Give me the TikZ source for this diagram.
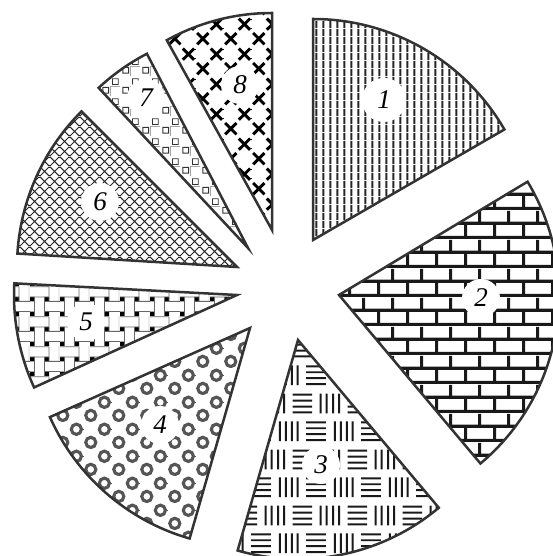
\documentclass[tikz,border=0pt]{standalone}
\usepackage{fontspec}
\setmainfont{Liberation Serif}
\usetikzlibrary{patterns.meta}

\definecolor{rim}{HTML}{333333}
\definecolor{ringgray}{HTML}{555555}

\tikzdeclarepattern{
  name=vstripes, type=colored,
  bounding box={(0pt,0pt) and (3.65pt,4pt)},
  tile size={(3.65pt,4pt)},
  code={\fill[black!85] (1.25pt,0pt) rectangle (2.35pt,4pt);}
}
\tikzdeclarepattern{
  name=bricks, type=colored,
  bounding box={(0pt,0pt) and (14.5pt,14.3pt)},
  tile size={(14.5pt,14.3pt)},
  code={
    \fill[black!90] (0pt,0pt) rectangle (14.5pt,1.6pt);
    \fill[black!90] (0pt,7.15pt) rectangle (14.5pt,8.75pt);
    \fill[black!90] (0pt,0pt) rectangle (1.6pt,7.15pt);
    \fill[black!90] (7.25pt,7.15pt) rectangle (8.85pt,14.3pt);
  }
}
\tikzdeclarepattern{
  name=parquet, type=colored,
  bounding box={(0pt,0pt) and (27.5pt,28pt)},
  tile size={(27.5pt,28pt)},
  code={
    \foreach \k in {0.5,3.5,6.5,9.5}{
      % row A
      \fill[black!90] (2pt+\k pt-0.5pt,2pt) rectangle (2pt+\k pt+0.5pt,12pt);
      \fill[black!90] (15.75pt,2pt+\k pt-0.5pt) rectangle (25.75pt,2pt+\k pt+0.5pt);
      % row B
      \fill[black!90] (8.875pt,16pt+\k pt-0.5pt) rectangle (18.875pt,16pt+\k pt+0.5pt);
      \fill[black!90] (22.625pt+\k pt-0.5pt,16pt) rectangle (22.625pt+\k pt+0.5pt,26pt);
      \fill[black!90] (-4.875pt+\k pt-0.5pt,16pt) rectangle (-4.875pt+\k pt+0.5pt,26pt);
    }
  }
}
\tikzdeclarepattern{
  name=rings, type=colored,
  bounding box={(0pt,0pt) and (14pt,13.3pt)},
  tile size={(14pt,13.3pt)},
  code={
    \draw[ringgray, line width=1.6pt] (3.5pt,3.325pt) circle[radius=2.6pt];
    \draw[ringgray, line width=1.6pt] (10.5pt,9.975pt) circle[radius=2.6pt];
  }
}
\tikzdeclarepattern{
  name=weave, type=colored,
  bounding box={(0pt,0pt) and (15pt,15pt)},
  tile size={(15pt,15pt)},
  code={
    \fill[black] (0pt,0pt) rectangle (2.3pt,2.3pt);
    \fill[black] (7.5pt,0pt) rectangle (9.8pt,2.3pt);
    \fill[black] (0pt,7.5pt) rectangle (2.3pt,9.8pt);
    \fill[black] (7.5pt,7.5pt) rectangle (9.8pt,9.8pt);
    \draw[black!60, line width=0.4pt] (2.3pt,0pt) -- (2.3pt,9.8pt) (7.5pt,0pt) -- (7.5pt,9.8pt);
    \draw[black!60, line width=0.4pt] (9.8pt,7.5pt) -- (9.8pt,15pt) (15pt,7.5pt) -- (15pt,17pt);
    \draw[black!60, line width=0.4pt] (7.5pt,2.3pt) -- (15pt,2.3pt) (7.5pt,7.5pt) -- (17pt,7.5pt);
    \draw[black!60, line width=0.4pt] (0pt,9.8pt) -- (9.8pt,9.8pt) (0pt,15pt) -- (9.8pt,15pt);
  }
}
\tikzdeclarepattern{
  name=diamonds, type=colored,
  bounding box={(0pt,0pt) and (5pt,5pt)},
  tile size={(5pt,5pt)},
  code={
    \draw[black!85, line width=0.55pt] (0pt,0pt) -- (5pt,5pt) (0pt,5pt) -- (5pt,0pt);
  }
}
\tikzdeclarepattern{
  name=boxes, type=colored,
  bounding box={(0pt,0pt) and (10pt,10pt)},
  tile size={(10pt,10pt)},
  code={
    \draw[black!80, line width=0.45pt] (1.5pt,1.5pt) rectangle (4.5pt,4.5pt);
    \draw[black!80, line width=0.45pt] (6.5pt,6pt) rectangle (9.5pt,9pt);
    \draw[gray!70, line width=0.35pt] (5.5pt,0pt) -- (5.5pt,5pt) -- (10pt,5pt);
  }
}
\tikzdeclarepattern{
  name=crosses, type=colored,
  bounding box={(0pt,0pt) and (14pt,15pt)},
  tile size={(14pt,15pt)},
  code={
    \draw[black, line width=1.5pt] (0.6pt,0.85pt) -- (6.4pt,6.65pt) (0.6pt,6.65pt) -- (6.4pt,0.85pt);
    \draw[black, line width=1.5pt] (7.6pt,8.35pt) -- (13.4pt,14.15pt) (7.6pt,14.15pt) -- (13.4pt,8.35pt);
  }
}

\begin{document}
\begin{tikzpicture}[x=0.5pt,y=0.5pt]
  \tikzset{
    slice/.style={draw=rim, line width=1.25pt, line join=miter},
    tag/.style={circle, fill=white, minimum size=19pt, inner sep=0pt,
      font=\fontsize{13.5}{15}\selectfont\itshape}
  }
  \useasboundingbox (0,0) rectangle (552,556);

  \coordinate (c1) at (313,316);
  \coordinate (c2) at (339,261);
  \coordinate (c3) at (298,216);
  \coordinate (c4) at (250,228);
  \coordinate (c5) at (237,261);
  \coordinate (c6) at (237,289);
  \coordinate (c7) at (248,308);
  \coordinate (c8) at (272,326);

  \draw[slice, pattern=vstripes] (c1) -- ++(30:110.5pt) arc[start angle=30, end angle=90, radius=110.5pt] -- cycle;
  \draw[slice, pattern=bricks] (c2) -- ++(-50:110pt) arc[start angle=-50, end angle=31, radius=110pt] -- cycle;
  \draw[slice, pattern=parquet] (c3) -- ++(254:109.5pt) arc[start angle=254, end angle=310, radius=109.5pt] -- cycle;
  \draw[slice, pattern=rings] (c4) -- ++(204:109.5pt) arc[start angle=204, end angle=254, radius=109.5pt] -- cycle;
  \draw[slice, pattern=weave] (c5) -- ++(177:111.5pt) arc[start angle=177, end angle=204.5, radius=111.5pt] -- cycle;
  \draw[slice, pattern=diamonds] (c6) -- ++(135:110pt) arc[start angle=135, end angle=176.5, radius=110pt] -- cycle;
  \draw[slice, pattern=boxes] (c7) -- ++(117.5:109.5pt) arc[start angle=117.5, end angle=133, radius=109.5pt] -- cycle;
  \draw[slice, pattern=crosses] (c8) -- ++(90:108.5pt) arc[start angle=90, end angle=119, radius=108.5pt] -- cycle;

  \node[tag, minimum height=22pt] (t1) at (384,456) {1};
  \node[tag] (t2) at (481,258) {2};
  \node[tag] (t3) at (321,91) {3};
  \node[tag] (t4) at (160,131) {4};
  \node[tag] (t5) at (86,234) {5};
  \node[tag] (t6) at (100,354) {6};
  \node[tag] (t7) at (146,458) {7};
  \node[tag] (t8) at (240,471) {8};
\end{tikzpicture}
\end{document}
